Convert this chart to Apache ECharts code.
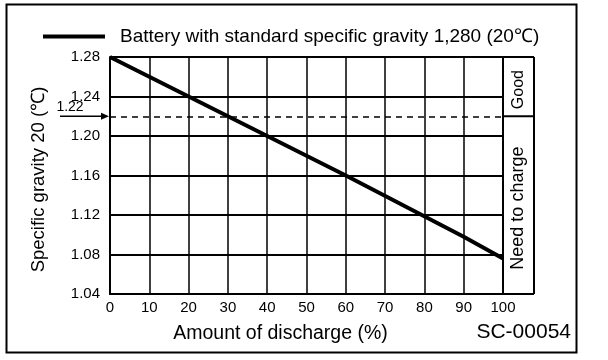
<!DOCTYPE html>
<html><head><meta charset="utf-8">
<script src="https://cdn.jsdelivr.net/npm/echarts@6/dist/echarts.min.js"></script>
<style>html,body{margin:0;padding:0;background:#fff}#c{width:608px;height:360px}</style>
</head><body><div id="c"></div>
<script>
const seriesName = 'Battery with standard specific gravity 1,280 (20\u2103)';
const discharge = [0, 20, 60, 90, 100];
const gravity = [1.28, 1.24, 1.16, 1.098, 1.076];
const xTicks = [0,10,20,30,40,50,60,70,80,90,100];
const yTicks = [1.04,1.08,1.12,1.16,1.20,1.24,1.28];
const threshold = 1.22;
const zoneLabels = ['Good', 'Need to charge'];
const codeLabel = 'SC-00054';
const FONT = 'Liberation Sans, Arial, sans-serif';

const chart = echarts.init(document.getElementById('c'), null, {renderer:'canvas'});
const opt = {
  animation:false,
  backgroundColor:'#fff',
  textStyle:{fontFamily:FONT, color:'#000'},
  legend:{
    left:38, top:22, icon:'rect', itemWidth:62, itemHeight:4,
    textStyle:{fontFamily:FONT, fontSize:19, color:'#000', padding:[0,0,0,10]},
    data:[seriesName]
  },
  grid:{left:110, right:105, top:57, bottom:66, show:false},
  xAxis:{
    type:'value', min:0, max:100, interval:10,
    name:'Amount of discharge (%)', nameLocation:'middle', nameGap:30,
    nameTextStyle:{fontFamily:FONT, fontSize:19.5, color:'#000', padding:[0,52,0,0]},
    axisLine:{show:true, lineStyle:{color:'#000', width:2}},
    axisTick:{show:false},
    axisLabel:{color:'#000', fontSize:15, fontFamily:FONT, margin:6, formatter:v=>xTicks.includes(v)?String(v):''},
    splitLine:{show:true, lineStyle:{color:'#000', width:1.5}}
  },
  yAxis:{
    type:'value', min:1.04, max:1.28, interval:0.04,
    name:'Specific gravity 20 (\u2103)', nameLocation:'middle', nameGap:62, nameRotate:90,
    nameTextStyle:{fontFamily:FONT, fontSize:18.5, color:'#000', padding:[0,8,0,0]},
    axisLine:{show:true, lineStyle:{color:'#000', width:2}},
    axisTick:{show:false},
    axisLabel:{color:'#000', fontSize:15, fontFamily:FONT, margin:10,
      formatter:v=>{const s=v.toFixed(2); return yTicks.some(t=>Math.abs(t-v)<1e-6)?s:'';}},
    splitLine:{show:true, lineStyle:{color:'#000', width:2}}
  },
  series:[{
    name:seriesName, type:'line', symbol:'none', color:'#000',
    lineStyle:{color:'#000', width:4},
    data:discharge.map((d,i)=>[d, gravity[i]]),
    markLine:{
      silent:true, symbol:'none', label:{show:false},
      lineStyle:{color:'#000', type:[6,5], width:1.5},
      data:[{yAxis:threshold}]
    }
  }]
};
chart.setOption(opt);

const pTL = chart.convertToPixel({gridIndex:0}, [100, 1.28]);
const pBR = chart.convertToPixel({gridIndex:0}, [0, 1.04]);
const pTh = chart.convertToPixel({gridIndex:0}, [0, threshold]);
const xr = pTL[0], yt = pTL[1], yb = pBR[1], x0 = pBR[0];
const boxW = 31;
const g = [
  {type:'rect', shape:{x:6.5, y:4.5, width:570, height:348}, style:{fill:null, stroke:'#000', lineWidth:2}, z:-1},
  {type:'line', shape:{x1:x0, y1:yt, x2:xr+boxW, y2:yt}, style:{stroke:'#000', lineWidth:2}},
  {type:'line', shape:{x1:xr, y1:yt, x2:xr, y2:yb}, style:{stroke:'#000', lineWidth:2}},
  {type:'line', shape:{x1:xr+boxW, y1:yt, x2:xr+boxW, y2:yb}, style:{stroke:'#000', lineWidth:2}},
  {type:'line', shape:{x1:xr, y1:yb, x2:xr+boxW, y2:yb}, style:{stroke:'#000', lineWidth:2}},
  {type:'line', shape:{x1:xr, y1:pTh[1], x2:xr+boxW, y2:pTh[1]}, style:{stroke:'#000', lineWidth:2}},
  {type:'text', x:xr+boxW/2, y:(yt+pTh[1])/2+3, rotation:Math.PI/2,
    style:{text:zoneLabels[0], font:'16px '+FONT, fill:'#000', align:'center', verticalAlign:'middle'}},
  {type:'text', x:xr+boxW/2, y:(pTh[1]+yb)/2+3, rotation:Math.PI/2,
    style:{text:zoneLabels[1], font:'18px '+FONT, fill:'#000', align:'center', verticalAlign:'middle'}},
  {type:'line', shape:{x1:60, y1:pTh[1], x2:x0-6, y2:pTh[1]}, style:{stroke:'#000', lineWidth:1.5}},
  {type:'polygon', shape:{points:[[x0-1,pTh[1]],[x0-9,pTh[1]-3.5],[x0-9,pTh[1]+3.5]]}, style:{fill:'#000'}},
  {type:'text', x:70, y:pTh[1]-2, style:{text:threshold.toFixed(2), font:'14px '+FONT, fill:'#000', align:'center', verticalAlign:'bottom'}},
  {type:'text', x:571, y:332, style:{text:codeLabel, font:'21px '+FONT, fill:'#000', align:'right', verticalAlign:'middle'}}
];
chart.setOption({graphic:{elements:g}});
</script></body></html>
